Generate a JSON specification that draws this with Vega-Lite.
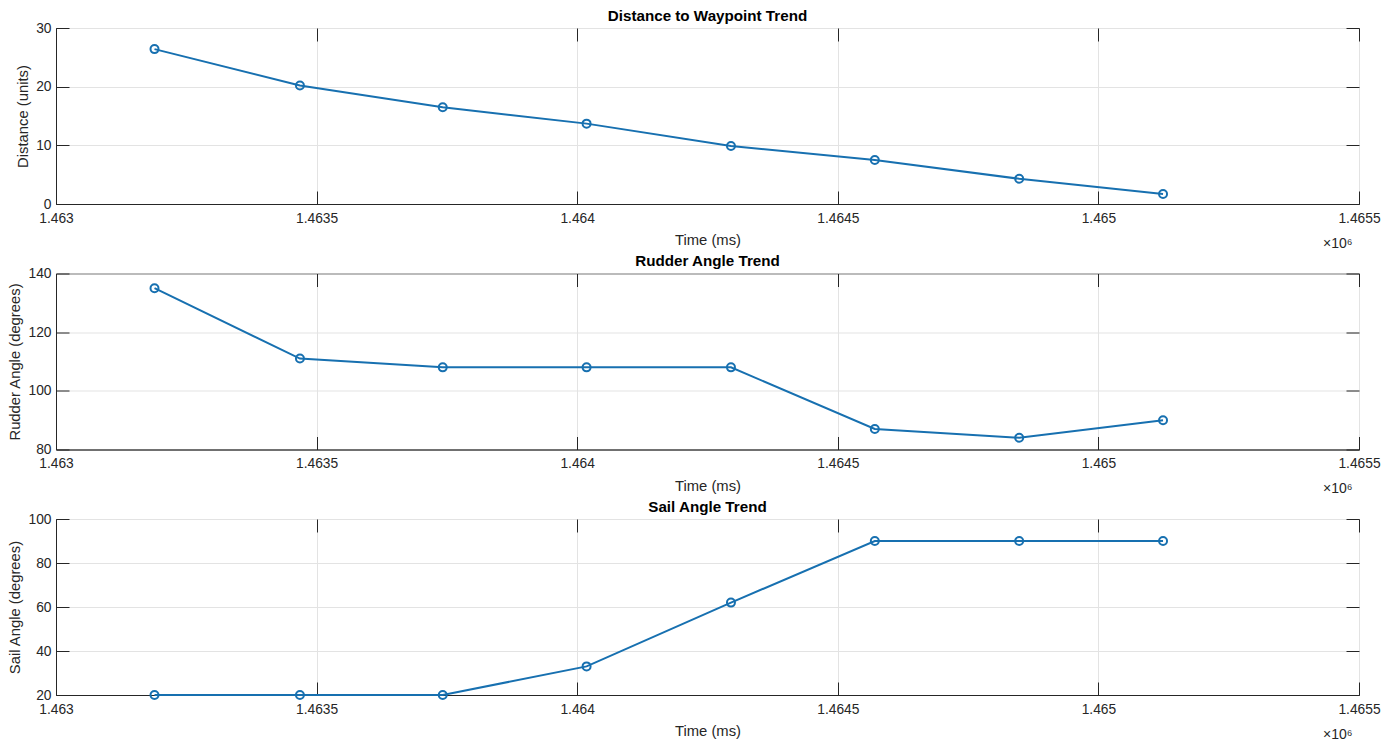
{
  "$schema": "https://vega.github.io/schema/vega-lite/v6.json",
  "background": "white",
  "padding": {"left": 7, "top": 8, "right": 10, "bottom": 2},
  "spacing": 2.5,
  "config": {
    "font": "Liberation Sans",
    "view": {"stroke": "#262626", "strokeWidth": 1},
    "axis": {
      "domainColor": "#262626",
      "tickColor": "#262626",
      "labelColor": "#262626",
      "titleColor": "#262626",
      "gridColor": "#e3e3e3",
      "labelFont": "Liberation Sans",
      "titleFont": "Liberation Sans",
      "labelFontSize": 13.8,
      "titleFontSize": 14.8,
      "titleFontWeight": "normal",
      "labelFlush": false,
      "labelOverlap": false
    },
    "title": {"font": "Liberation Sans", "fontSize": 15.2, "fontWeight": "bold", "color": "#000000", "offset": -3, "anchor": "middle"}
  },
  "datasets": {
    "d": [
      {"time": 1463189, "distance": 26.4, "rudder": 135, "sail": 20},
      {"time": 1463468, "distance": 20.2, "rudder": 111, "sail": 20},
      {"time": 1463742, "distance": 16.5, "rudder": 108, "sail": 20},
      {"time": 1464018, "distance": 13.7, "rudder": 108, "sail": 33},
      {"time": 1464295, "distance": 9.9, "rudder": 108, "sail": 62},
      {"time": 1464571, "distance": 7.5, "rudder": 87, "sail": 90},
      {"time": 1464848, "distance": 4.3, "rudder": 84, "sail": 90},
      {"time": 1465124, "distance": 1.7, "rudder": 90, "sail": 90}
    ]
  },
  "vconcat": [
    {
      "title": "Distance to Waypoint Trend",
      "width": 1303, "height": 176,
      "data": {"name": "d"},
      "layer": [
        {
          "mark": {"type": "line", "color": "#1770b0", "strokeWidth": 2},
          "encoding": {
            "x": {"field": "time", "type": "quantitative", "scale": {"domain": [1463000, 1465500], "nice": false, "zero": false},
              "axis": {"orient": "bottom", "title": "Time (ms)", "values": [1463000, 1463500, 1464000, 1464500, 1465000, 1465500], "labelExpr": "format(datum.value/1000000, '.5~g')", "tickSize": -13, "labelPadding": 20, "titlePadding": 8, "grid": true}},
            "y": {"field": "distance", "type": "quantitative", "scale": {"domain": [0, 30], "nice": false, "zero": false},
              "axis": {"orient": "left", "title": "Distance (units)", "values": [0, 10, 20, 30], "tickSize": -13, "labelPadding": 18, "titlePadding": 5, "grid": true}}
          }
        },
        {
          "mark": {"type": "point", "shape": "circle", "filled": false, "color": "#1770b0", "strokeWidth": 2, "size": 64, "opacity": 1},
          "encoding": {
            "x": {"field": "time", "type": "quantitative",
              "axis": {"orient": "top", "labels": false, "domain": false, "grid": false, "tickSize": -13, "values": [1463000, 1463500, 1464000, 1464500, 1465000, 1465500], "title": "×10⁶", "titleAlign": "right", "titleX": 1296, "titleBaseline": "alphabetic", "titleY": 219, "titleFontSize": 14}},
            "y": {"field": "distance", "type": "quantitative",
              "axis": {"orient": "right", "labels": false, "domain": false, "grid": false, "tickSize": -13, "values": [0, 10, 20, 30], "title": null}}
          }
        }
      ],
      "resolve": {"axis": {"x": "independent", "y": "independent"}}
    },
    {
      "title": "Rudder Angle Trend",
      "width": 1303, "height": 176,
      "data": {"name": "d"},
      "layer": [
        {
          "mark": {"type": "line", "color": "#1770b0", "strokeWidth": 2},
          "encoding": {
            "x": {"field": "time", "type": "quantitative", "scale": {"domain": [1463000, 1465500], "nice": false, "zero": false},
              "axis": {"orient": "bottom", "title": "Time (ms)", "values": [1463000, 1463500, 1464000, 1464500, 1465000, 1465500], "labelExpr": "format(datum.value/1000000, '.5~g')", "tickSize": -13, "labelPadding": 20, "titlePadding": 8, "grid": true}},
            "y": {"field": "rudder", "type": "quantitative", "scale": {"domain": [80, 140], "nice": false, "zero": false},
              "axis": {"orient": "left", "title": "Rudder Angle (degrees)", "values": [80, 100, 120, 140], "tickSize": -13, "labelPadding": 18, "titlePadding": 5, "grid": true}}
          }
        },
        {
          "mark": {"type": "point", "shape": "circle", "filled": false, "color": "#1770b0", "strokeWidth": 2, "size": 64, "opacity": 1},
          "encoding": {
            "x": {"field": "time", "type": "quantitative",
              "axis": {"orient": "top", "labels": false, "domain": false, "grid": false, "tickSize": -13, "values": [1463000, 1463500, 1464000, 1464500, 1465000, 1465500], "title": "×10⁶", "titleAlign": "right", "titleX": 1296, "titleBaseline": "alphabetic", "titleY": 219, "titleFontSize": 14}},
            "y": {"field": "rudder", "type": "quantitative",
              "axis": {"orient": "right", "labels": false, "domain": false, "grid": false, "tickSize": -13, "values": [80, 100, 120, 140], "title": null}}
          }
        }
      ],
      "resolve": {"axis": {"x": "independent", "y": "independent"}}
    },
    {
      "title": "Sail Angle Trend",
      "width": 1303, "height": 176,
      "data": {"name": "d"},
      "layer": [
        {
          "mark": {"type": "line", "color": "#1770b0", "strokeWidth": 2},
          "encoding": {
            "x": {"field": "time", "type": "quantitative", "scale": {"domain": [1463000, 1465500], "nice": false, "zero": false},
              "axis": {"orient": "bottom", "title": "Time (ms)", "values": [1463000, 1463500, 1464000, 1464500, 1465000, 1465500], "labelExpr": "format(datum.value/1000000, '.5~g')", "tickSize": -13, "labelPadding": 20, "titlePadding": 8, "grid": true}},
            "y": {"field": "sail", "type": "quantitative", "scale": {"domain": [20, 100], "nice": false, "zero": false},
              "axis": {"orient": "left", "title": "Sail Angle (degrees)", "values": [20, 40, 60, 80, 100], "tickSize": -13, "labelPadding": 18, "titlePadding": 5, "grid": true}}
          }
        },
        {
          "mark": {"type": "point", "shape": "circle", "filled": false, "color": "#1770b0", "strokeWidth": 2, "size": 64, "opacity": 1},
          "encoding": {
            "x": {"field": "time", "type": "quantitative",
              "axis": {"orient": "top", "labels": false, "domain": false, "grid": false, "tickSize": -13, "values": [1463000, 1463500, 1464000, 1464500, 1465000, 1465500], "title": "×10⁶", "titleAlign": "right", "titleX": 1296, "titleBaseline": "alphabetic", "titleY": 219, "titleFontSize": 14}},
            "y": {"field": "sail", "type": "quantitative",
              "axis": {"orient": "right", "labels": false, "domain": false, "grid": false, "tickSize": -13, "values": [20, 40, 60, 80, 100], "title": null}}
          }
        }
      ],
      "resolve": {"axis": {"x": "independent", "y": "independent"}}
    }
  ]
}
